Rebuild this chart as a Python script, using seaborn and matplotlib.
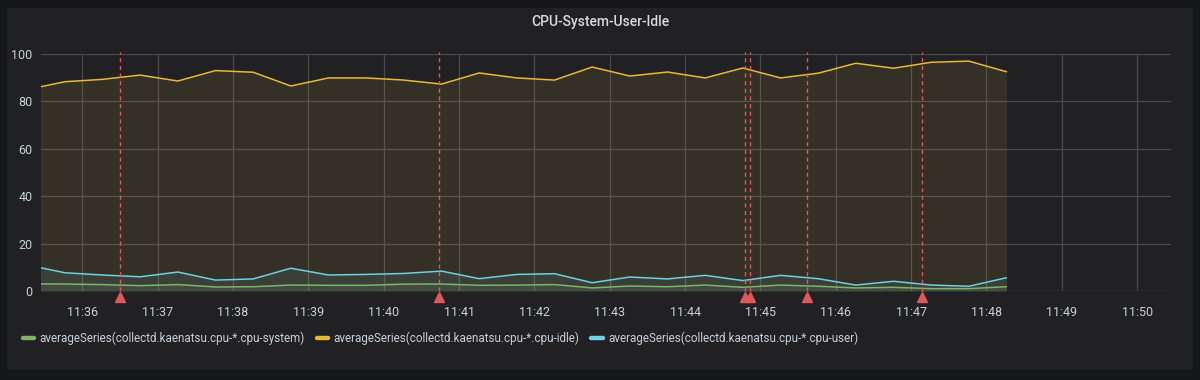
import matplotlib
matplotlib.use('Agg')
import pandas as pd
import numpy as np
import matplotlib.pyplot as plt
import matplotlib.dates as mdates
from matplotlib.lines import Line2D
from matplotlib.patches import FancyBboxPatch
import matplotlib.transforms as mtransforms
import seaborn as sns

# =====================================================
#  DATOS
# =====================================================
times = pd.date_range("2019-01-01 11:35:16", "2019-01-01 11:48:16", freq="30s")

idle = [85.0, 88.3, 89.3, 91.1, 88.6, 93.0, 92.3, 86.5, 89.9, 89.9, 89.0, 87.3, 92.0, 89.9,
        89.0, 94.5, 90.7, 92.4, 89.9, 94.1, 89.9, 91.9, 96.1, 94.0, 96.5, 97.0, 92.5]
user = [11.0, 7.7, 6.75, 6.0, 8.0, 4.6, 5.1, 9.6, 6.75, 7.0, 7.4, 8.4, 5.2, 7.0,
        7.3, 3.5, 5.9, 5.1, 6.6, 4.4, 6.6, 5.2, 2.5, 4.1, 2.5, 2.0, 5.6]
system = [3.0, 2.95, 2.7, 2.25, 2.7, 1.7, 1.8, 2.5, 2.4, 2.4, 2.9, 2.95, 2.4, 2.5,
          2.7, 1.3, 2.1, 1.8, 2.5, 1.55, 2.5, 2.0, 1.3, 1.55, 1.0, 1.0, 1.8]

annotations = pd.to_datetime(["2019-01-01 11:36:30", "2019-01-01 11:40:44",
                              "2019-01-01 11:44:48", "2019-01-01 11:44:52",
                              "2019-01-01 11:45:37", "2019-01-01 11:47:09"])

series_names = [
    "averageSeries(collectd.kaenatsu.cpu-*.cpu-system)",
    "averageSeries(collectd.kaenatsu.cpu-*.cpu-idle)",
    "averageSeries(collectd.kaenatsu.cpu-*.cpu-user)",
]
series_values = [system, idle, user]
colors = ["#7eb26d", "#eab839", "#6ed0e0"]

x_start = pd.Timestamp("2019-01-01 11:35:27")
x_end = pd.Timestamp("2019-01-01 11:50:27")

# =====================================================
#  ESTILO
# =====================================================
sns.set_style("dark")
plt.rcParams['font.family'] = ['Roboto', 'DejaVu Sans']
text_color = "#c7d0d9"
panel_bg = "#212124"
page_bg = "#161719"

df = pd.concat([
    pd.DataFrame({"time": times, "value": vals, "serie": name})
    for name, vals in zip(series_names, series_values)
])

fig = plt.figure(figsize=(12, 3.8), dpi=100, facecolor=page_bg)
fig.patches.append(FancyBboxPatch((7 / 1200, 1 - 370 / 380), 1186 / 1200, 362 / 380,
                                  boxstyle="round,pad=0,rounding_size=0.003",
                                  transform=fig.transFigure, facecolor=panel_bg,
                                  edgecolor="none", zorder=-10))

ax = fig.add_axes([41 / 1200, 1 - 291 / 380, 1130 / 1200, 237 / 380])
ax.set_zorder(2)
ax.set_facecolor("none")

# Orden de dibujo: idle al fondo, luego user y system
for name, col in [(series_names[1], colors[1]), (series_names[2], colors[2]), (series_names[0], colors[0])]:
    sub = df[df["serie"] == name]
    ax.fill_between(sub["time"], sub["value"], 0, color=col, alpha=0.1, linewidth=0, zorder=2)
    sns.lineplot(data=sub, x="time", y="value", color=col, linewidth=1.1, ax=ax, zorder=3)

# Anotaciones
trans = mtransforms.blended_transform_factory(ax.transData, ax.transAxes)
for t in annotations:
    ax.plot([t, t], [0, 1.01], transform=trans, color="#e0575a", linestyle=(0, (3, 2.5)),
            linewidth=1, zorder=4, clip_on=False)
    ax.plot([t], [-0.026], transform=trans, marker="^", markersize=7, color="#e0575a",
            clip_on=False, zorder=5)

ax.set_xlim(x_start, x_end)
ax.set_ylim(0, 100)
ax.set_yticks([0, 20, 40, 60, 80, 100])
ax.xaxis.set_major_locator(mdates.MinuteLocator())
ax.xaxis.set_major_formatter(mdates.DateFormatter("%H:%M"))
ax.set_xlabel("")
ax.set_ylabel("")
ax.grid(True, color="#4a4a4c", linewidth=0.9, zorder=1)
ax.set_axisbelow(True)
for s in ax.spines.values():
    s.set_visible(False)
ax.tick_params(axis="both", length=0, colors=text_color, labelsize=9)
ax.tick_params(axis="x", pad=11)
ax.tick_params(axis="y", pad=6)

fig.text(0.5, 1 - 22 / 380, "CPU-System-User-Idle", ha="center", va="center",
         color="#d8d9da", fontsize=10, fontweight="medium")

handles = [Line2D([0], [0], color=c, linewidth=3.2) for c in colors]
fig.legend(handles, series_names, loc="center left", bbox_to_anchor=(0.019, 1 - 338 / 380),
           ncol=3, frameon=False, fontsize=8.4, labelcolor=text_color, handlelength=1.0,
           handletextpad=0.45, columnspacing=1.0, borderaxespad=0, borderpad=0)

fig.savefig("out.png", dpi=100, facecolor=page_bg)
